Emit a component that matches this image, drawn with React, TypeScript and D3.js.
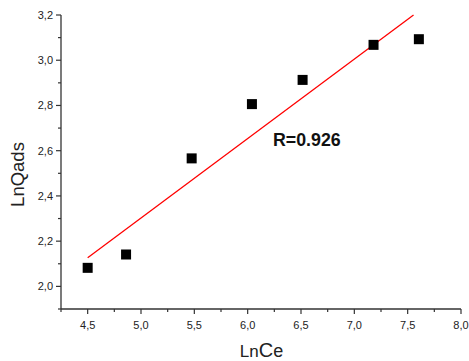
import React from "react";
import * as d3 from "d3";

const lnCe = [4.5, 4.86, 5.475, 6.04, 6.515, 7.18, 7.605];
const lnQads = [2.082, 2.141, 2.566, 2.806, 2.913, 3.068, 3.093];
const fitX = [4.5, 7.555];
const fitY = [2.127, 3.2];
const xMajor = [4.5, 5.0, 5.5, 6.0, 6.5, 7.0, 7.5, 8.0];
const xMinor = [4.25, 4.75, 5.25, 5.75, 6.25, 6.75, 7.25, 7.75];
const yMajor = [2.0, 2.2, 2.4, 2.6, 2.8, 3.0, 3.2];
const yMinor = [1.9, 2.1, 2.3, 2.5, 2.7, 2.9, 3.1];
const rLabel = "R=0.926";

export default function App() {
  const W = 469, H = 361;
  const left = 61, right = 461, top = 15, bottom = 309;
  const x = d3.scaleLinear().domain([4.25, 8.0]).range([left, right]);
  const y = d3.scaleLinear().domain([1.9, 3.2]).range([bottom, top]);
  const fmt = (v: number) => v.toFixed(1).replace(".", ",");
  const line = d3.line<number>().x((d, i) => x(fitX[i])).y((d, i) => y(fitY[i]));
  const axisColor = "#333";
  const font = "Arial, 'Liberation Sans', sans-serif";
  return (
    <svg width={W} height={H} style={{ position: "absolute", left: 0, top: 0, background: "#fff" }} fontFamily={font}>
      {/* axes */}
      <line x1={left} y1={top} x2={left} y2={bottom} stroke={axisColor} strokeWidth={1.3} />
      <line x1={left} y1={bottom} x2={right} y2={bottom} stroke={axisColor} strokeWidth={1.3} />
      {yMajor.map((v) => (
        <g key={"ym" + v}>
          <line x1={left - 5} x2={left} y1={y(v)} y2={y(v)} stroke={axisColor} strokeWidth={1.2} />
          <text x={left - 8} y={y(v)} dy="0.35em" textAnchor="end" fontSize={11} fill="#222">{fmt(v)}</text>
        </g>
      ))}
      {yMinor.map((v) => (
        <line key={"yn" + v} x1={left - 3} x2={left} y1={y(v)} y2={y(v)} stroke={axisColor} strokeWidth={1.2} />
      ))}
      {xMajor.map((v) => (
        <g key={"xm" + v}>
          <line x1={x(v)} x2={x(v)} y1={bottom} y2={bottom + 5} stroke={axisColor} strokeWidth={1.2} />
          <text x={x(v)} y={bottom + 20} textAnchor="middle" fontSize={11} fill="#222">{fmt(v)}</text>
        </g>
      ))}
      {xMinor.map((v) => (
        <line key={"xn" + v} x1={x(v)} x2={x(v)} y1={bottom} y2={bottom + 3} stroke={axisColor} strokeWidth={1.2} />
      ))}
      {/* titles */}
      <text x={261.5} y={357} textAnchor="middle" fontSize={17} fill="#222">
        Ln<tspan fontSize={20}>C</tspan><tspan fontSize={18}>e</tspan>
      </text>
      <text transform={`translate(24,174.5) rotate(-90)`} textAnchor="middle" fontSize={18.5} fill="#222">LnQads</text>
      {/* fit line */}
      <path d={line(fitX) || ""} fill="none" stroke="#f00" strokeWidth={1.3} />
      {/* points */}
      {lnCe.map((v, i) => (
        <rect key={"p" + i} x={x(v) - 5} y={y(lnQads[i]) - 5} width={10} height={10} fill="#000" />
      ))}
      <text x={273} y={146} fontSize={17.8} fontWeight="bold" fill="#111">{rLabel}</text>
    </svg>
  );
}
